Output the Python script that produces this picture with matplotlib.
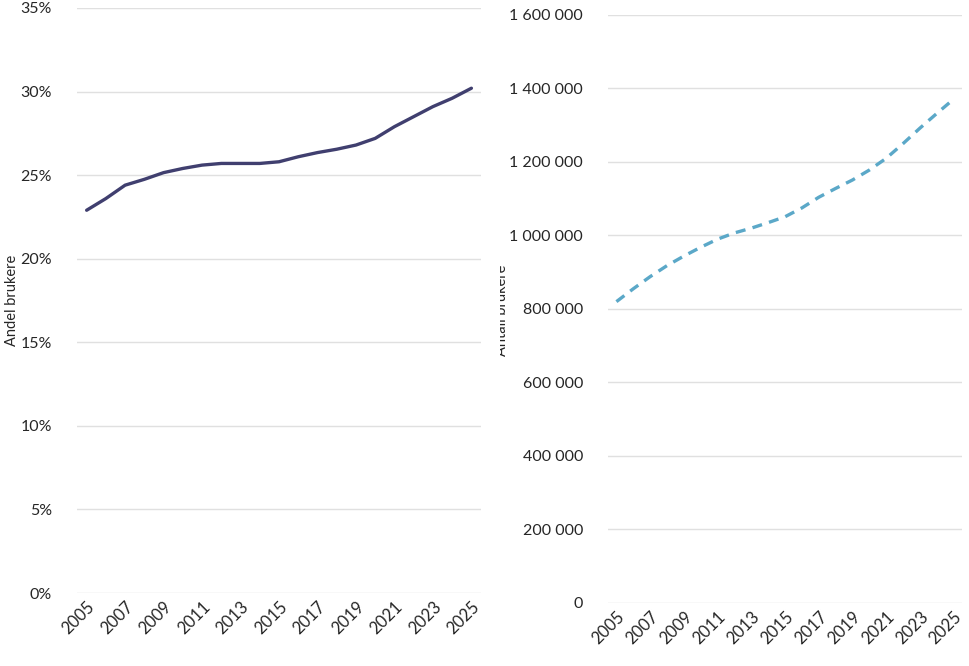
import matplotlib
matplotlib.use("Agg")
import matplotlib.pyplot as plt
from matplotlib.ticker import FuncFormatter, MultipleLocator
from matplotlib.patches import Rectangle

# data
years = list(range(2005, 2026))
andel = [22.9, 23.6, 24.4, 24.75, 25.15, 25.4, 25.6, 25.7, 25.7, 25.7, 25.8,
         26.1, 26.35, 26.55, 26.8, 27.2, 27.9, 28.5, 29.1, 29.6, 30.2]
antall = [820000, 855000, 888000, 918000, 944000, 968000, 990000, 1007000, 1020000,
          1035000, 1051000, 1075000, 1104000, 1128000, 1151000, 1178000, 1210000,
          1250000, 1292000, 1332000, 1371000]
xticks = years[::2]

plt.rcParams['font.family'] = ['Lato', 'DejaVu Sans']
text_col = '#262626'
grid_col = '#e0e0e0'

fig = plt.figure(figsize=(9.7, 6.66), dpi=100)
ax1 = fig.add_axes([0.0794, 0.1096, 0.4165, 0.8784])
ax2 = fig.add_axes([0.6268, 0.0946, 0.365, 0.8829])

def style(ax):
    for s in ax.spines.values():
        s.set_visible(False)
    ax.grid(axis='y', color=grid_col, linewidth=1)
    ax.set_axisbelow(True)
    ax.tick_params(length=0, colors=text_col, labelsize=11.5)
    ax.tick_params(axis='y', pad=18)
    ax.tick_params(axis='x', pad=4, labelsize=12)
    ax.set_xlim(years[0] - 0.5, years[-1] + 0.5)
    ax.set_xticks(xticks)
    ax.set_xticklabels([str(y) for y in xticks], rotation=45, ha='right',
                       rotation_mode='anchor')

# left panel: share
ax1.plot(years, andel, color='#403f6f', linewidth=2.4, solid_capstyle='round')
ax1.set_ylim(0, 35)
ax1.yaxis.set_major_locator(MultipleLocator(5))
ax1.yaxis.set_major_formatter(FuncFormatter(lambda v, p: f"{v:.0f}%"))
style(ax1)
fig.text(12 / 970, 1 - 300 / 666, 'Andel brukere', rotation=90, ha='center',
         va='center', fontsize=10.5, color=text_col)

# right panel: count
ax2.plot(years, antall, color='#5ba8c8', linewidth=2.4, linestyle=(0, (3, 2.2)))
ax2.set_ylim(0, 1600000)
ax2.yaxis.set_major_locator(MultipleLocator(200000))
ax2.yaxis.set_major_formatter(FuncFormatter(lambda v, p: f"{v:,.0f}".replace(',', ' ')))
style(ax2)
fig.text(502 / 970, 1 - 310 / 666, 'Antall brukere', rotation=90, ha='center',
         va='center', fontsize=10.5, color=text_col)
# the reference shows this label half hidden
fig.patches.append(Rectangle((488 / 970, 1 - 370 / 666), 12 / 970, 120 / 666,
                             transform=fig.transFigure, facecolor='white',
                             edgecolor='none', zorder=5))

fig.savefig('out.png', dpi=100, facecolor='white')
